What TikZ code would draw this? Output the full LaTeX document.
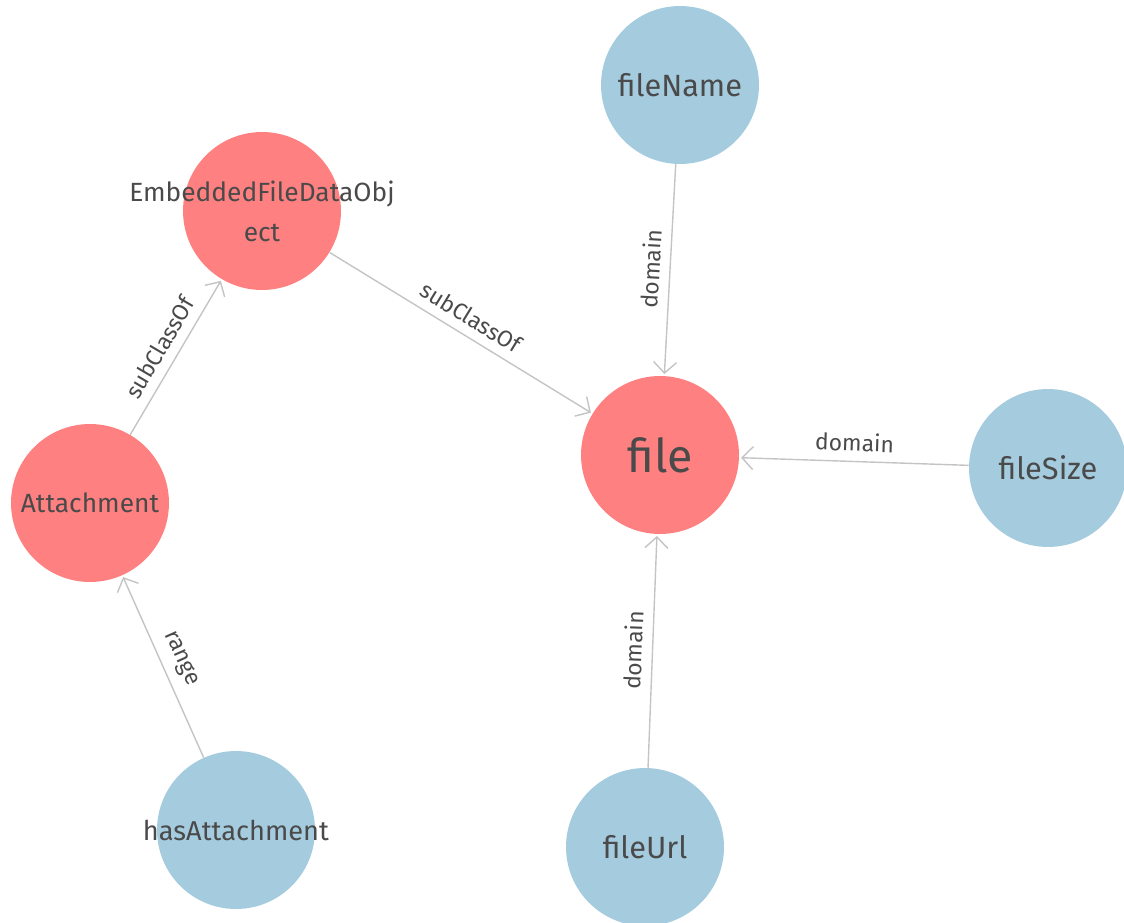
\documentclass[tikz,border=0pt]{standalone}
\usepackage{fontspec}
\setmainfont{Fira Sans}
\usepackage{tikz}
\usetikzlibrary{positioning,arrows.meta}
\definecolor{classred}{HTML}{FF8080}
\definecolor{propblue}{HTML}{A5CBDE}
\definecolor{edgegray}{HTML}{C4C4C4}
\definecolor{textgray}{HTML}{4A4A4A}

\begin{document}
\begin{tikzpicture}[x=0.02cm,y=-0.02cm,
    classnode/.style={circle, fill=classred, minimum size=3.16cm, inner sep=0pt,
      text=textgray, font=\fontsize{15}{22.7}\selectfont, align=center},
    propnode/.style={circle, fill=propblue, minimum size=3.16cm, inner sep=0pt,
      text=textgray, font=\fontsize{17.5}{20}\selectfont},
    link/.style={draw=edgegray, line width=0.8pt, shorten >=1pt,
      -{Straight Barb[length=2.2mm,width=4.6mm]}},
    lbl/.style={font=\fontsize{13}{15}\selectfont, text=textgray, sloped, above=2pt, midway}]
  \useasboundingbox (0,0) rectangle (1124,922);

  % classes
  \node[classnode] (embedded) at (262,211)
    {\makebox[0pt][c]{EmbeddedFileDataObj}\\\makebox[0pt][c]{ect}};
  \node[classnode, font=\fontsize{26.5}{30}\selectfont] (file) at (660,455) {file};
  \node[classnode] (attachment) at (90,503) {Attachment};

  % properties
  \node[propnode] (filename) at (680,85) {fileName};
  \node[propnode] (filesize) at (1048,468) {fileSize};
  \node[propnode] (fileurl) at (645,847) {fileUrl};
  \node[propnode, font=\fontsize{15.5}{18}\selectfont] (hasattachment) at (236,830)
    {\makebox[0pt][c]{hasAttachment}};

  % edges
  \draw[link] (embedded) -- node[lbl] {subClassOf} (file);
  \draw[link] (attachment) -- node[lbl] {subClassOf} (embedded);
  \draw[link] (hasattachment) -- node[lbl] {range} (attachment);
  \draw[link] (filename) -- node[lbl] {domain} (file);
  \draw[link] (filesize) -- node[lbl] {domain} (file);
  \draw[link] (fileurl) -- node[lbl] {domain} (file);
\end{tikzpicture}
\end{document}
